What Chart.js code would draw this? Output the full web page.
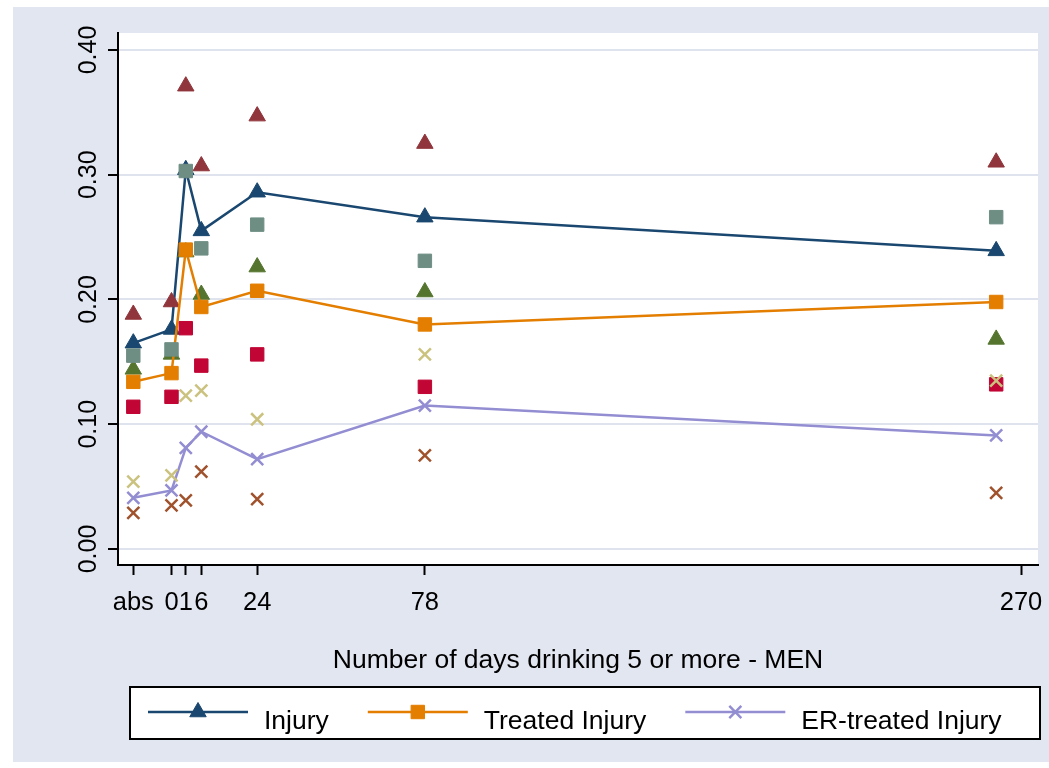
<!DOCTYPE html>
<html>
<head>
<meta charset="utf-8">
<script src="https://cdn.jsdelivr.net/npm/chart.js@4/dist/chart.umd.min.js"></script>
<style>
    html, body { margin: 0; padding: 0; background: #fff; }
    #wrap { width: 1049px; height: 768px; }
</style>
</head>
<body>
<div id="wrap"><canvas id="chart" width="1049" height="768"></canvas></div>
<script>
// x positions on the axis (abs and 0 sit left of the linear part)
const xTickPos = [-15.9, -3.6, 1, 6, 24, 78, 270];
const xTickLabels = ['abs', '0', '1', '6', '24', '78', '270'];
const groupX = [-15.9, -3.6, 1, 6, 24, 78, 262];
const yTicks = [0, 0.1, 0.2, 0.3, 0.4];

const injury       = [0.165, 0.176, 0.304, 0.255, 0.286, 0.266, 0.239];
const injuryUpper  = [0.188, 0.198, 0.371, 0.307, 0.347, 0.325, 0.310];
const injuryLower  = [0.144, 0.156, 0.238, 0.204, 0.226, 0.206, 0.168];
const treated      = [0.134, 0.141, 0.240, 0.194, 0.207, 0.180, 0.198];
const treatedUpper = [0.155, 0.160, 0.303, 0.241, 0.260, 0.231, 0.266];
const treatedLower = [0.114, 0.122, 0.177, 0.147, 0.156, 0.130, 0.132];
const erTreated    = [0.041, 0.047, 0.081, 0.094, 0.072, 0.115, 0.091];
const erUpper      = [0.054, 0.059, 0.123, 0.127, 0.104, 0.156, 0.135];
const erLower      = [0.029, 0.035, 0.039, 0.062, 0.040, 0.075, 0.045];

const xTitle = 'Number of days drinking 5 or more - MEN';
const FONT = '"Liberation Sans", Arial, sans-serif';

function pts(values) {
    return groupX.map(function (x, i) { return { x: x, y: values[i] }; });
}

function series(label, values, color, style, withLine) {
    const isCross = style === 'crossRot';
    return {
        label: label,
        data: pts(values),
        showLine: withLine,
        inLegend: withLine,
        borderColor: color,
        borderWidth: 2.5,
        pointStyle: style,
        pointRadius: isCross ? 8.5 : 9.5,
        pointHoverRadius: isCross ? 8.5 : 9.5,
        pointBackgroundColor: color,
        pointBorderColor: color,
        pointBorderWidth: isCross ? 2.5 : 1
    };
}

const datasets = [
    series('Injury', injury, '#1a476f', 'triangle', true),
    series('Injury upper', injuryUpper, '#90353b', 'triangle', false),
    series('Injury lower', injuryLower, '#55752f', 'triangle', false),
    series('Treated Injury', treated, '#e37e00', 'rect', true),
    series('Treated upper', treatedUpper, '#6e8e84', 'rect', false),
    series('Treated lower', treatedLower, '#c10534', 'rect', false),
    series('ER-treated Injury', erTreated, '#938dd2', 'crossRot', true),
    series('ER-treated upper', erUpper, '#cac27e', 'crossRot', false),
    series('ER-treated lower', erLower, '#a0522d', 'crossRot', false)
];
// later series are painted on top
datasets.forEach(function (ds, i) { ds.order = datasets.length - 1 - i; });

const background = {
    id: 'background',
    beforeDraw(chart) {
        const ctx = chart.ctx;
        const a = chart.chartArea;
        ctx.save();
        ctx.fillStyle = '#e2e6f0';
        ctx.fillRect(13, 7, chart.width - 13, chart.height - 13);
        ctx.fillStyle = '#ffffff';
        ctx.fillRect(a.left, a.top, a.right - a.left, a.bottom - a.top);
        ctx.restore();
    }
};

const legendBox = {
    id: 'legendBox',
    afterDraw(chart) {
        const ctx = chart.ctx;
        const items = chart.data.datasets.filter(function (d) { return d.inLegend; });
        const lineY = 712;
        ctx.save();
        ctx.fillStyle = '#ffffff';
        ctx.fillRect(130, 687, 910, 52);
        ctx.lineWidth = 2;
        ctx.strokeStyle = '#000000';
        ctx.strokeRect(130, 687, 910, 52);
        ctx.font = '26.5px ' + FONT;
        let x = 148;
        items.forEach(function (ds) {
            ctx.strokeStyle = ds.borderColor;
            ctx.lineWidth = ds.borderWidth;
            ctx.beginPath();
            ctx.moveTo(x, lineY);
            ctx.lineTo(x + 100, lineY);
            ctx.stroke();
            ctx.fillStyle = ds.pointBackgroundColor;
            ctx.strokeStyle = ds.pointBorderColor;
            ctx.lineWidth = ds.pointBorderWidth;
            Chart.helpers.drawPoint(ctx, {
                pointStyle: ds.pointStyle,
                radius: ds.pointRadius,
                rotation: 0,
                borderWidth: ds.pointBorderWidth
            }, x + 50, lineY);
            ctx.fillStyle = '#000000';
            ctx.textBaseline = 'alphabetic';
            ctx.textAlign = 'left';
            ctx.fillText(ds.label, x + 116, 729);
            x += 116 + ctx.measureText(ds.label).width + 39;
        });
        ctx.restore();
    }
};

new Chart(document.getElementById('chart').getContext('2d'), {
    type: 'line',
    data: { datasets: datasets },
    options: {
        responsive: false,
        animation: false,
        layout: { padding: { left: 0, right: 8, top: 33, bottom: 91 } },
        elements: { line: { tension: 0 } },
        plugins: {
            legend: { display: false },
            tooltip: { enabled: false }
        },
        scales: {
            x: {
                type: 'linear',
                min: -20.83,
                max: 275.47,
                afterBuildTicks: function (s) { s.ticks = xTickPos.map(function (v) { return { value: v }; }); },
                afterFit: function (s) {
                    s.height = 112;
                    s.paddingLeft = 0;
                    s.paddingRight = 0;
                },
                border: { color: '#000', width: 2 },
                grid: { drawOnChartArea: false, tickLength: 10, tickColor: '#000', tickWidth: 2 },
                ticks: {
                    autoSkip: false,
                    minRotation: 0,
                    maxRotation: 0,
                    padding: 13,
                    color: '#000',
                    font: { family: FONT, size: 25.5 },
                    callback: function (v, i) { return xTickLabels[i]; }
                },
                title: {
                    display: true,
                    text: xTitle,
                    color: '#000',
                    font: { family: FONT, size: 26.5 },
                    padding: { top: 0, bottom: 0 }
                }
            },
            y: {
                min: -0.01283,
                max: 0.41363,
                afterBuildTicks: function (s) { s.ticks = yTicks.map(function (v) { return { value: v }; }); },
                afterFit: function (s) { s.width = 118; },
                border: { color: '#000', width: 2 },
                grid: { color: '#dfe3ee', lineWidth: 2, tickLength: 10, tickColor: '#000', tickWidth: 2 },
                ticks: {
                    autoSkip: false,
                    minRotation: 90,
                    maxRotation: 90,
                    crossAlign: 'center',
                    padding: -5,
                    color: '#000',
                    font: { family: FONT, size: 25 },
                    callback: function (v) { return v.toFixed(2); }
                }
            }
        }
    },
    plugins: [background, legendBox]
});
</script>
</body>
</html>
